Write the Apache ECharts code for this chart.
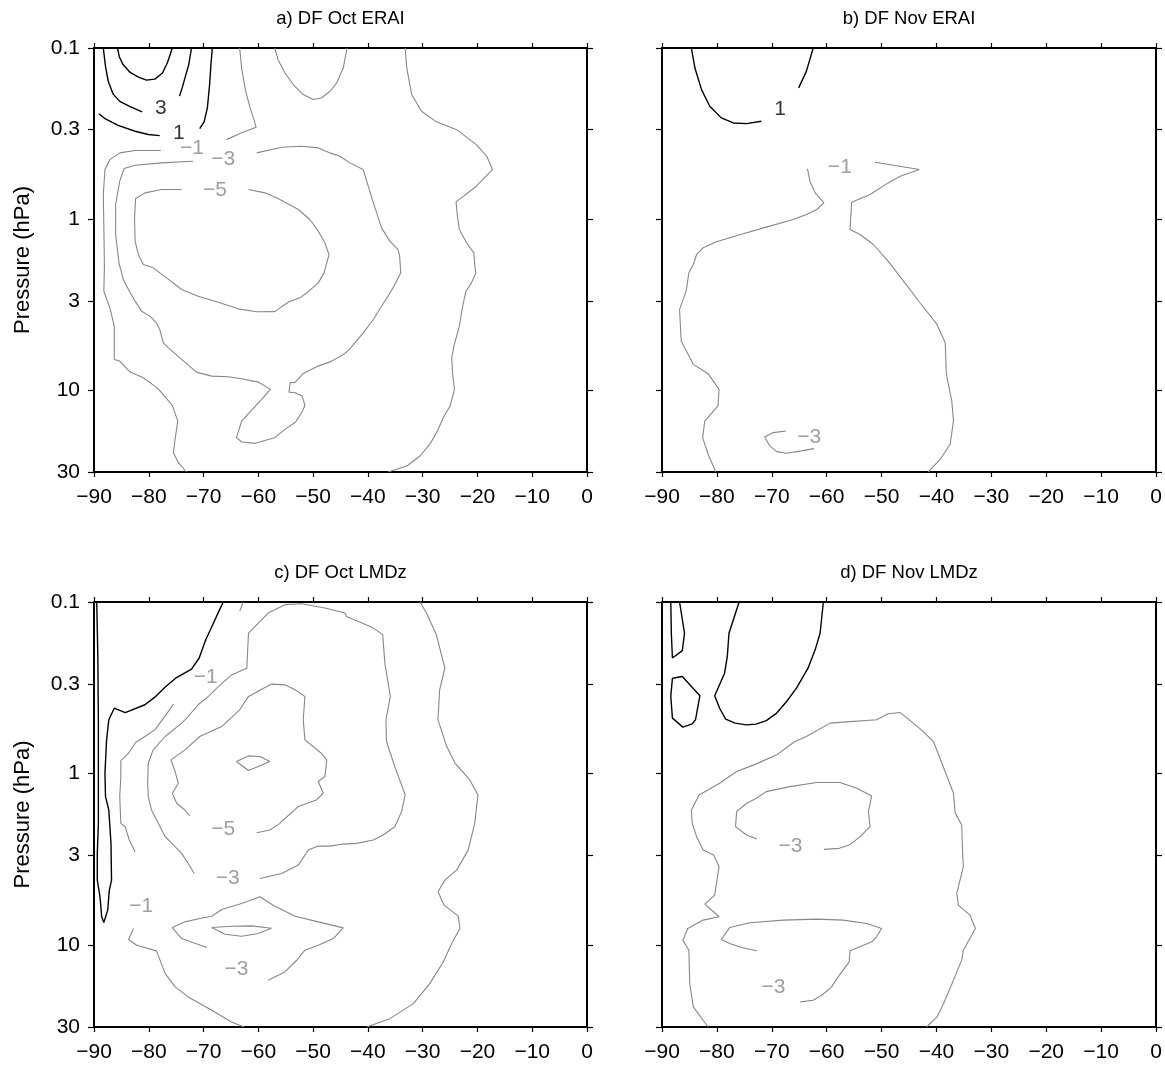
<!DOCTYPE html>
<html>
<head>
<meta charset="utf-8">
<script src="https://cdn.jsdelivr.net/npm/echarts@6/dist/echarts.min.js"></script>
<style>
  html, body { margin: 0; padding: 0; background: #fff; }
  #chart { width: 1165px; height: 1065px; }
</style>
</head>
<body>
<div id="chart"></div>
<script>
// Contours of DF (latitude in degrees, pressure in hPa)

// ---- Tick marks ----
const yTickValues = [0.1, 0.3, 1, 3, 10, 30];
const yTickLabels = ['0.1', '0.3', '1', '3', '10', '30'];
const latMin = -90, latMax = 0, latStep = 10;
const pTop = 0.1, pBottom = 30;

// ---- a) DF Oct ERAI ----
const aPos5 = [[-85.7,0.1],[-85.4,0.112],[-84.7,0.125],[-83.4,0.139],[-81.9,0.148],[-80.4,0.154],[-78.9,0.152],[-77.5,0.140],[-76.6,0.122],[-75.7,0.1]];
const aPos3a = [[-88.3,0.1],[-87.9,0.128],[-87.4,0.1565],[-86.5,0.186],[-85.3,0.205],[-83.4,0.220],[-81.2,0.236]];
const aPos3b = [[-74.4,0.191],[-73.9,0.171],[-73.3,0.146],[-72.7,0.125],[-72.2,0.1]];
const aPos1a = [[-89.1,0.242],[-88.0,0.2585],[-85.6,0.283],[-82.5,0.3065],[-80.1,0.320],[-78.0,0.325]];
const aPos1b = [[-70.7,0.296],[-69.9,0.270],[-69.3,0.224],[-68.9,0.164],[-68.65,0.125],[-68.4,0.1]];
const aNeg1a = [[-63.4,0.1],[-63.05,0.131],[-62.3,0.179],[-61.5,0.224],[-60.9,0.256],[-60.4,0.290],[-63.05,0.313],[-65.8,0.343]];
const aNeg1b = [[-77.8,0.397],[-82.5,0.397],[-85.3,0.410],[-87.1,0.449],[-88.0,0.513],[-88.3,0.718],[-88.2,1.124],[-88.1,1.883],[-88.2,2.635],[-87.1,3.296],[-86.3,4.217],[-86.3,6.60],[-85.3,6.745],[-83.4,7.826],[-81.0,8.445],[-78.3,9.78],[-75.7,12.25],[-74.7,15.12],[-75.2,19.34],[-75.5,23.14],[-74.6,26.46],[-73.1,30]];
const aNeg1Top = [[-57.0,0.1],[-56.4,0.117],[-55.15,0.140],[-53.6,0.164],[-51.8,0.187],[-50.0,0.200],[-48.5,0.196],[-46.9,0.179],[-45.7,0.160],[-44.5,0.131],[-43.8,0.1]];
const aNeg1Outer = [[-33.2,0.1],[-32.9,0.131],[-32.0,0.187],[-30.2,0.234],[-27.5,0.270],[-23.8,0.300],[-20.2,0.367],[-18.3,0.429],[-17.25,0.513],[-20.2,0.642],[-23.9,0.792],[-23.7,0.939],[-23.3,1.149],[-22.0,1.374],[-20.65,1.573],[-20.5,1.84],[-20.3,2.059],[-21.1,2.356],[-22.1,2.635],[-22.7,3.223],[-23.3,4.217],[-24.3,5.517],[-24.7,6.454],[-24.55,7.896],[-24.2,9.876],[-25.0,12.36],[-26.25,14.45],[-27.3,17.29],[-28.7,20.69],[-30.5,24.19],[-32.9,27.68],[-36.3,30]];
const aNeg3 = [[-71.9,0.459],[-77.65,0.469],[-82.5,0.484],[-84.5,0.506],[-85.3,0.600],[-86.05,0.821],[-86.05,1.229],[-85.4,1.84],[-85.1,1.969],[-84.65,2.252],[-83.7,2.576],[-82.5,3.013],[-81.3,3.447],[-79.8,3.686],[-78.6,4.032],[-78.0,4.41],[-77.35,5.276],[-76.4,5.643],[-74.0,6.60],[-71.3,7.826],[-68.5,8.258],[-65.5,8.33],[-63.05,8.556],[-60.0,8.95],[-57.8,9.874],[-59.4,11.30],[-61.2,13.04],[-63.05,15.12],[-64.0,18.91],[-63.05,20.04],[-60.6,20.40],[-57.0,18.91],[-55.15,16.91],[-53.2,15.32],[-52.1,13.51],[-51.5,12.25],[-52.0,10.80],[-53.3,10.33],[-54.4,10.24],[-54.2,9.03],[-53.2,8.95],[-51.8,7.965],[-49.06,7.22],[-46.6,6.75],[-44.2,6.09],[-43.3,5.72],[-40.85,4.613],[-39.0,3.855],[-37.9,3.37],[-36.5,2.88],[-35.25,2.464],[-34.0,2.058],[-34.2,1.646],[-34.5,1.505],[-36.0,1.344],[-37.5,1.124],[-39.1,0.785],[-40.85,0.513],[-43.3,0.469],[-45.1,0.429],[-46.9,0.410],[-49.06,0.3835],[-52.1,0.375],[-55.75,0.380],[-60.3,0.410]];
const aNeg5 = [[-74.0,0.671],[-77.65,0.671],[-80.7,0.702],[-82.4,0.758],[-82.6,0.982],[-82.5,1.344],[-81.9,1.608],[-81.0,1.84],[-79.2,1.925],[-77.0,2.173],[-74.0,2.576],[-71.0,2.818],[-67.3,3.054],[-63.7,3.341],[-60.3,3.478],[-57.0,3.47],[-55.75,3.252],[-54.4,3.04],[-52.4,2.881],[-51.0,2.671],[-49.06,2.356],[-48.0,2.059],[-47.1,1.61],[-47.85,1.374],[-49.06,1.175],[-50.6,1.005],[-52.7,0.878],[-56.4,0.758],[-58.8,0.702],[-61.8,0.671]];
const aLabels = [[3,-77.8,0.226],[1,-74.5,0.313],[-1,-72.1,0.387],[-3,-66.4,0.449],[-5,-67.9,0.680]];

// ---- b) DF Nov ERAI ----
const bPos1a = [[-84.65,0.1],[-84.0,0.131],[-82.8,0.175],[-81.3,0.219],[-79.2,0.256],[-77.0,0.274],[-74.6,0.2765],[-71.9,0.268]];
const bPos1b = [[-65.1,0.171],[-63.7,0.137],[-62.45,0.1]];
const bNeg1a = [[-63.5,0.508],[-63.05,0.600],[-62.1,0.702],[-60.5,0.803],[-61.8,0.878],[-63.7,0.939],[-66.1,1.005],[-71.0,1.113],[-75.2,1.218],[-80.1,1.356],[-82.5,1.47],[-83.7,1.608],[-84.3,1.84],[-85.1,2.057],[-85.6,2.632],[-86.8,3.367],[-86.5,5.153],[-84.3,7.05],[-81.6,7.994],[-79.6,9.867],[-79.8,12.34],[-82.2,15.10],[-82.6,18.89],[-81.6,23.63],[-80.2,30]];
const bNeg1b = [[-51.2,0.465],[-43.1,0.513],[-46.6,0.561],[-48.8,0.614],[-52.1,0.718],[-55.45,0.796],[-55.75,1.149],[-53.9,1.229],[-51.5,1.406],[-48.8,1.759],[-46.0,2.301],[-43.0,3.078],[-39.9,4.12],[-38.4,5.27],[-38.2,8.065],[-37.2,11.54],[-36.9,15.10],[-37.5,20.67],[-39.3,25.27],[-41.5,30]];
const bNeg3 = [[-67.4,17.27],[-69.7,17.66],[-71.3,18.73],[-70.35,21.13],[-69.1,22.80],[-67.3,23.32],[-64.6,22.59],[-62.3,21.90]];
const bLabels = [[1,-68.5,0.229],[-1,-57.6,0.497],[-3,-63.2,18.73]];

// ---- c) DF Oct LMDz ----
const cPos1 = [[-89.5,0.1],[-89.3,0.2076],[-89.2,0.508],[-89.2,0.996],[-89.2,1.951],[-89.4,2.92],[-89.4,4.18],[-88.9,5.23],[-88.6,6.84],[-88.2,7.38],[-87.5,6.254],[-87.2,4.78],[-86.8,4.18],[-86.9,2.553],[-87.3,1.631],[-87.9,1.362],[-88.0,0.996],[-87.7,0.636],[-87.3,0.486],[-86.3,0.416],[-84.3,0.441],[-80.7,0.397],[-78.9,0.3585],[-77.0,0.313],[-75.1,0.278],[-72.2,0.246],[-70.8,0.212],[-69.6,0.166],[-68.2,0.133],[-67.3,0.115],[-66.4,0.1]];
const cNeg1a = [[-62.75,0.1],[-63.4,0.113]];
const cNeg1b = [[-75.5,0.394],[-77.0,0.461],[-78.9,0.556],[-80.7,0.608],[-82.4,0.659],[-83.7,0.761],[-85.1,0.840],[-85.1,1.041],[-85.3,1.362],[-85.1,1.95],[-84.3,2.04],[-83.6,2.419],[-82.5,2.856]];
const cNeg1c = [[-82.8,8.0],[-83.7,9.277],[-82.2,10.01],[-78.6,10.80],[-77.0,14.65],[-75.2,17.52],[-72.8,20.04],[-68.5,23.98],[-64.9,28.05],[-62.6,30]];
const cNeg1Outer = [[-30.5,0.1],[-29.3,0.116],[-27.5,0.155],[-25.95,0.243],[-26.9,0.325],[-27.2,0.486],[-25.6,0.696],[-24.1,0.870],[-21.4,1.089],[-19.9,1.332],[-20.5,1.95],[-20.8,2.134],[-21.7,2.793],[-23.8,3.653],[-25.95,4.18],[-27.2,4.89],[-26.1,5.848],[-23.5,6.78],[-23.2,8.0],[-24.7,9.79],[-26.25,12.53],[-28.7,16.76],[-31.7,21.92],[-36.0,26.82],[-40.2,30]];
const cNeg3Upper = [[-71.7,3.82],[-72.8,3.341],[-74.0,2.92],[-77.0,2.334],[-79.2,1.706],[-79.5,1.63],[-80.1,1.362],[-80.2,1.139],[-80.1,0.870],[-79.2,0.728],[-77.0,0.608],[-74.0,0.508],[-72.8,0.465],[-71.0,0.397],[-69.1,0.355],[-67.3,0.311],[-64.9,0.266],[-62.1,0.243],[-61.8,0.152],[-58.2,0.116],[-55.15,0.1036],[-52.1,0.1023],[-47.85,0.1084],[-44.2,0.116],[-43.9,0.1213],[-40.85,0.1333],[-39.0,0.1419],[-37.3,0.155],[-36.9,0.227],[-35.9,0.355],[-36.7,0.486],[-36.6,0.6505],[-35.1,0.910],[-33.2,1.332],[-33.85,1.667],[-34.8,1.95],[-35.1,2.04],[-37.2,2.282],[-39.0,2.441],[-42.1,2.553],[-44.5,2.576],[-46.9,2.647],[-49.06,2.647],[-50.9,2.793],[-52.7,3.416],[-55.75,3.82],[-59.7,4.087]];
const cNeg5 = [[-72.5,1.766],[-73.4,1.63],[-74.9,1.49],[-75.7,1.302],[-74.6,1.139],[-75.2,0.973],[-75.95,0.832],[-73.4,0.728],[-70.7,0.608],[-66.7,0.532],[-63.4,0.425],[-61.8,0.355],[-57.6,0.301],[-55.15,0.304],[-53.3,0.325],[-51.5,0.355],[-51.8,0.486],[-51.5,0.636],[-48.5,0.761],[-47.5,0.832],[-47.85,1.041],[-49.06,1.113],[-48.15,1.302],[-49.4,1.424],[-52.7,1.558],[-55.45,1.864],[-56.06,1.951],[-57.9,2.134],[-60.3,2.212]];
const cNeg7 = [[-64.0,0.851],[-61.8,0.789],[-59.7,0.796],[-57.9,0.851],[-60.0,0.910],[-61.8,0.960],[-64.0,0.851]];
const cNeg3Lower = [[-69.4,10.33],[-74.0,9.152],[-75.7,7.896],[-73.4,7.316],[-70.7,6.995],[-68.5,6.78],[-66.7,6.197],[-63.05,5.72],[-59.7,5.228],[-57.3,5.848],[-53.3,6.78],[-49.06,7.316],[-44.5,7.932],[-46.3,9.152],[-49.06,10.01],[-51.5,10.70],[-53.0,12.25],[-55.15,14.33],[-58.2,16.02]];
const cNeg5Lens = [[-68.5,7.896],[-64.9,7.755],[-61.2,7.72],[-57.6,7.965],[-60.0,8.554],[-63.05,8.869],[-66.1,8.635],[-68.5,7.896]];
const cLabels = [[-1,-69.6,0.274],[-1,-81.4,5.93],[-5,-66.4,2.115],[-3,-65.6,4.05],[-3,-64.0,13.88]];

// ---- d) DF Nov LMDz ----
const dPos1a = [[-88.4,0.1],[-88.3,0.152],[-88.1,0.212],[-86.3,0.192],[-85.9,0.152],[-86.8,0.1]];
const dPos1b = [[-88.1,0.278],[-86.3,0.272],[-83.1,0.352],[-83.9,0.486],[-84.5,0.513],[-86.2,0.536],[-88.1,0.475],[-88.4,0.355],[-88.1,0.278]];
const dPos1c = [[-75.95,0.1],[-77.0,0.127],[-77.8,0.152],[-78.1,0.2076],[-78.6,0.260],[-80.4,0.352],[-79.5,0.416],[-78.4,0.482],[-76.7,0.508],[-74.6,0.520],[-72.9,0.515],[-71.0,0.491],[-69.1,0.444],[-67.3,0.380],[-65.5,0.318],[-63.4,0.243],[-62.1,0.190],[-61.2,0.152],[-60.6,0.1]];
const dNeg1 = [[-81.6,30],[-84.3,22.9],[-84.95,16.74],[-85.1,10.70],[-86.2,9.35],[-85.3,7.994],[-82.5,7.146],[-79.6,6.83],[-82.2,5.765],[-80.4,5.107],[-79.6,3.49],[-80.6,2.984],[-82.5,2.79],[-83.7,2.332],[-84.5,1.95],[-84.65,1.63],[-83.25,1.332],[-79.5,1.139],[-76.4,0.973],[-72.8,0.878],[-69.1,0.778],[-65.8,0.6505],[-63.7,0.608],[-59.4,0.508],[-57.0,0.5015],[-50.9,0.486],[-48.8,0.448],[-46.6,0.441],[-44.2,0.508],[-42.4,0.569],[-40.55,0.6505],[-39.0,0.870],[-36.9,1.302],[-36.6,1.689],[-35.4,1.993],[-35.2,3.05],[-35.1,3.49],[-36.3,4.993],[-36.0,5.841],[-33.9,6.68],[-32.9,7.994],[-35.1,10.70],[-35.4,12.23],[-36.9,16.0],[-38.7,21.9],[-39.9,26.2],[-41.8,30]];
const dNeg3Upper = [[-72.7,2.406],[-74.6,2.28],[-76.6,2.038],[-76.4,1.667],[-74.6,1.49],[-72.8,1.393],[-71.0,1.274],[-66.7,1.191],[-61.8,1.128],[-57.6,1.128],[-54.5,1.218],[-51.8,1.35],[-52.4,1.667],[-52.1,2.038],[-53.9,2.332],[-55.75,2.597],[-57.7,2.728],[-60.5,2.765]];
const dNeg3Lower = [[-72.7,10.79],[-75.5,10.32],[-77.65,9.78],[-79.2,9.27],[-77.65,7.885],[-74.0,7.405],[-67.9,7.146],[-61.8,7.05],[-57.0,7.146],[-52.7,7.472],[-50.0,7.994],[-50.9,8.94],[-51.8,9.56],[-53.3,10.0],[-55.75,10.79],[-55.9,12.51],[-57.0,13.99],[-57.9,15.30],[-59.1,17.51],[-60.9,19.58],[-62.45,20.94],[-64.8,21.41]];
const dLabels = [[-3,-66.6,2.644],[-3,-69.7,17.51]];

// ---- panel layout ----
const panels = [
  { title: 'a) DF Oct ERAI', grid: { left: 94, top: 48, width: 493, height: 424 }, yLabels: true,
    lines: [[5,aPos5],[3,aPos3a],[3,aPos3b],[1,aPos1a],[1,aPos1b],[-1,aNeg1a],[-1,aNeg1b],[-1,aNeg1Top],[-1,aNeg1Outer],[-3,aNeg3],[-5,aNeg5]],
    labels: aLabels },
  { title: 'b) DF Nov ERAI', grid: { left: 662, top: 48, width: 494, height: 424 }, yLabels: false,
    lines: [[1,bPos1a],[1,bPos1b],[-1,bNeg1a],[-1,bNeg1b],[-3,bNeg3]],
    labels: bLabels },
  { title: 'c) DF Oct LMDz', grid: { left: 94, top: 602, width: 493, height: 425 }, yLabels: true,
    lines: [[1,cPos1],[-1,cNeg1a],[-1,cNeg1b],[-1,cNeg1c],[-1,cNeg1Outer],[-3,cNeg3Upper],[-5,cNeg5],[-7,cNeg7],[-3,cNeg3Lower],[-5,cNeg5Lens]],
    labels: cLabels },
  { title: 'd) DF Nov LMDz', grid: { left: 662, top: 602, width: 494, height: 425 }, yLabels: false,
    lines: [[1,dPos1a],[1,dPos1b],[1,dPos1c],[-1,dNeg1],[-3,dNeg3Upper],[-3,dNeg3Lower]],
    labels: dLabels }
];

const FONT = '"Liberation Sans", Arial, Helvetica, sans-serif';
const POS_COLOR = '#000000';
const NEG_COLOR = '#878787';
const yLog = yTickValues.map(v => Math.log10(v));
const minusFmt = v => (v < 0 ? '\u2212' + Math.abs(v) : String(v));
const yFmt = v => {
  const k = yLog.findIndex(t => Math.abs(t - v) < 1e-6);
  return k >= 0 ? yTickLabels[k] : '';
};
const toXY = pts => pts.map(([lat, p]) => [lat, Math.log10(p)]);

const option = {
  animation: false,
  backgroundColor: '#ffffff',
  grid: [], xAxis: [], yAxis: [], series: [], graphic: []
};

panels.forEach((pn, i) => {
  option.grid.push(Object.assign({ containLabel: false, show: false }, pn.grid));
  const axisLine = { show: true, onZero: false, lineStyle: { color: '#000', width: 2 } };
  const tick = { show: true, inside: false, length: 5, lineStyle: { color: '#000', width: 1.2 } };
  ['bottom', 'top'].forEach(pos => {
    option.xAxis.push({
      type: 'value', gridIndex: i, position: pos,
      min: latMin, max: latMax, interval: latStep,
      axisLine, axisTick: tick, splitLine: { show: false },
      axisLabel: { show: pos === 'bottom', fontSize: 21, color: '#000', fontFamily: FONT, margin: 15, formatter: minusFmt }
    });
  });
  ['left', 'right'].forEach(pos => {
    option.yAxis.push({
      type: 'value', gridIndex: i, position: pos, inverse: true,
      min: Math.log10(pTop), max: Math.log10(pBottom),
      axisLine, splitLine: { show: false },
      axisTick: Object.assign({ customValues: yLog }, tick, { length: 6 }),
      axisLabel: { show: pos === 'left' && pn.yLabels, customValues: yLog, fontSize: 21, color: '#000', fontFamily: FONT, margin: 14, formatter: yFmt },
      name: (pos === 'left' && pn.yLabels) ? 'Pressure (hPa)' : '',
      nameLocation: 'middle', nameRotate: 90, nameGap: 60,
      nameTextStyle: { fontSize: 22, color: '#000', fontFamily: FONT }
    });
  });
  pn.lines.forEach(([level, pts]) => {
    option.series.push({
      type: 'line', xAxisIndex: 2 * i, yAxisIndex: 2 * i,
      data: toXY(pts), showSymbol: false, symbol: 'none', smooth: false,
      lineStyle: { color: level > 0 ? POS_COLOR : NEG_COLOR, width: level > 0 ? 1.4 : 1.1 },
      silent: true, z: 3
    });
  });
  option.series.push({
    type: 'scatter', xAxisIndex: 2 * i, yAxisIndex: 2 * i,
    symbolSize: 1, itemStyle: { color: 'rgba(0,0,0,0)' }, silent: true, z: 4,
    data: pn.labels.map(([level, lat, p]) => ({
      value: [lat, Math.log10(p)],
      label: {
        show: true, position: 'inside', formatter: minusFmt(level),
        fontSize: 21, fontFamily: FONT, color: level > 0 ? POS_COLOR : NEG_COLOR
      }
    }))
  });
  option.graphic.push({
    type: 'text', x: pn.grid.left + pn.grid.width / 2, y: pn.grid.top - 29,
    style: { text: pn.title, font: '18.5px ' + FONT, fill: '#000', align: 'center', verticalAlign: 'middle', textAlign: 'center', textVerticalAlign: 'middle' }
  });
});

const chart = echarts.init(document.getElementById('chart'), null, { renderer: 'canvas' });
chart.setOption(option);
</script>
</body>
</html>
